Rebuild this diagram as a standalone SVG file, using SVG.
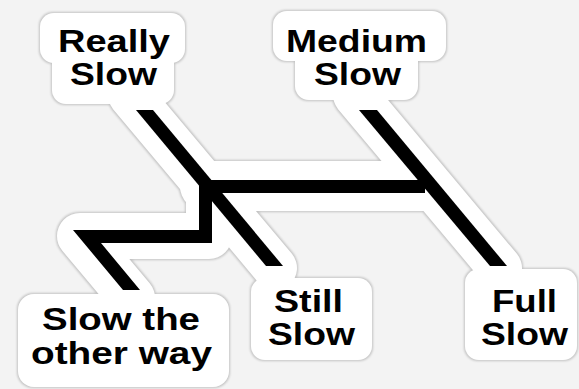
<svg xmlns="http://www.w3.org/2000/svg" width="579" height="389" viewBox="0 0 579 389">
<defs>
<filter id="edge" filterUnits="userSpaceOnUse" x="0" y="0" width="579" height="389">
<feMorphology in="SourceAlpha" operator="dilate" radius="1.4" result="d"/>
<feGaussianBlur in="d" stdDeviation="0.8" result="b"/>
<feFlood flood-color="#c2c2c2"/>
<feComposite in2="b" operator="in" result="g"/>
<feMerge><feMergeNode in="g"/><feMergeNode in="SourceGraphic"/></feMerge>
</filter>
</defs>
<style>
.band{fill:none;stroke:#fff;stroke-linejoin:round;stroke-linecap:round}
.blob{fill:#fff}
.bar{fill:#000}
.lbl{font-family:"Liberation Sans",Arial,sans-serif;font-weight:bold;font-size:31px;fill:#000}
</style>
<rect width="579" height="389" fill="#f3f3f3"/>
<g id="sticker" filter="url(#edge)">
<path class="band" stroke-width="44" d="M130,95 L275,268"/>
<path class="band" stroke-width="44" d="M355,95 L500,268"/>
<path class="band" stroke-width="50" d="M205,186 L425,186"/>
<path class="band" stroke-width="46" d="M209,186 L209,236 L80,236 L132,298"/>
<rect class="blob" x="40" y="13" width="145" height="50" rx="14"/>
<rect class="blob" x="52" y="48" width="122" height="56" rx="14"/>
<rect class="blob" x="273" y="11" width="173" height="50" rx="14"/>
<rect class="blob" x="295" y="46" width="123" height="54" rx="14"/>
<rect class="blob" x="251" y="278" width="121" height="82" rx="14"/>
<rect class="blob" x="465" y="269" width="112" height="91" rx="14"/>
<rect class="blob" x="18" y="294" width="211" height="93" rx="16"/>
</g>
<g id="connectors">
<polygon class="bar" points="136,110 153,110 283,266 266,266"/>
<polygon class="bar" points="359,110 377,110 507,266 490,266"/>
<rect class="bar" x="205" y="180" width="220" height="13"/>
<polygon class="bar" points="199,182 212,182 212,243 101,243 140,290 123,290 73,230 199,230"/>
</g>
<g id="really-slow"><text class="lbl" x="58" y="52" textLength="112" lengthAdjust="spacingAndGlyphs">Really</text><text class="lbl" x="70" y="85" textLength="87" lengthAdjust="spacingAndGlyphs">Slow</text></g>
<g id="medium-slow"><text class="lbl" x="286" y="52" textLength="141" lengthAdjust="spacingAndGlyphs">Medium</text><text class="lbl" x="314" y="85" textLength="87" lengthAdjust="spacingAndGlyphs">Slow</text></g>
<g id="slow-other-way"><text class="lbl" x="42" y="330" textLength="158" lengthAdjust="spacingAndGlyphs">Slow the</text><text class="lbl" x="31" y="364" textLength="181" lengthAdjust="spacingAndGlyphs">other way</text></g>
<g id="still-slow"><text class="lbl" x="274" y="312" textLength="69" lengthAdjust="spacingAndGlyphs">Still</text><text class="lbl" x="268" y="345" textLength="87" lengthAdjust="spacingAndGlyphs">Slow</text></g>
<g id="full-slow"><text class="lbl" x="492" y="312" textLength="65" lengthAdjust="spacingAndGlyphs">Full</text><text class="lbl" x="481" y="345" textLength="87" lengthAdjust="spacingAndGlyphs">Slow</text></g>
</svg>
